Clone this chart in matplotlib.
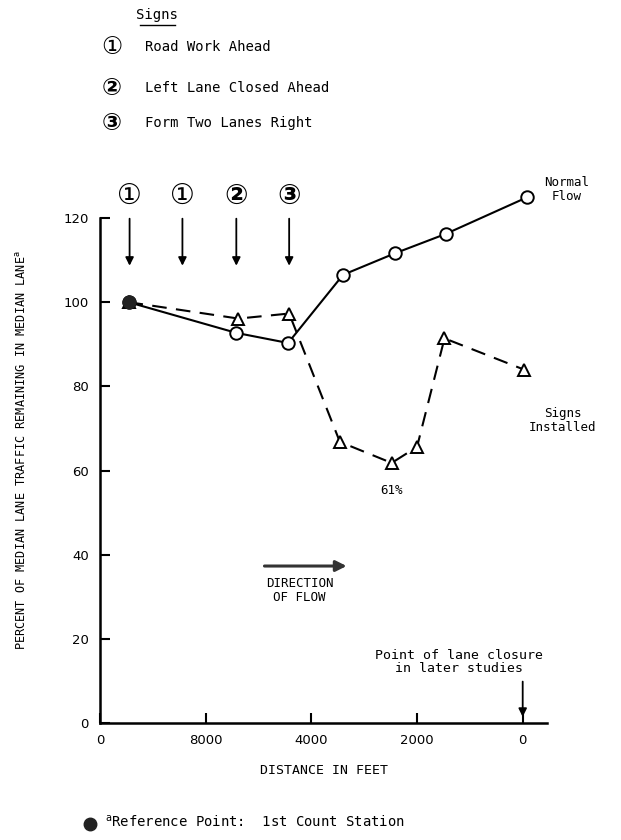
import matplotlib
matplotlib.use("Agg")
import matplotlib.pyplot as plt
from matplotlib.lines import Line2D

# x positions are in tick units (ticks are equally spaced on the original)
tick_pos = [0, 1, 2, 3, 4]
tick_labels = ['0', '8000', '4000', '2000', '0']
y_ticks = [0, 20, 40, 60, 80, 100, 120]

normal_x = [0.27, 1.29, 1.78, 2.30, 2.79, 3.27, 4.04]
normal_y = [100, 92.7, 90.3, 106.5, 111.6, 116.2, 124.9]

signs_x = [0.27, 1.31, 1.79, 2.27, 2.76, 3.00, 3.26, 4.01]
signs_y = [100, 96.1, 97.3, 66.8, 61.8, 65.6, 91.4, 84.0]

sign_pos = [0.28, 0.78, 1.29, 1.79]
sign_marks = ['\u2460', '\u2460', '\u2461', '\u2462']
sign_names = ['Road Work Ahead', 'Left Lane Closed Ahead', 'Form Two Lanes Right']

MONO = ['DejaVu Sans Mono', 'Noto Sans CJK JP']
CIRC = ['DejaVu Sans', 'Noto Sans CJK JP']

W, H = 621, 840
fig = plt.figure(figsize=(W / 100, H / 100), dpi=100)
ax = fig.add_axes([100 / W, 1 - 723 / H, 447 / W, 505 / H])


def px(x, y):
    return x / W, 1 - y / H


ax.plot(signs_x, signs_y, color='black', lw=1.5, ls=(0, (7, 4.5)),
        marker='^', ms=9, mfc='white', mec='black', mew=1.4, clip_on=False, zorder=3)
ax.plot(normal_x, normal_y, color='black', lw=1.5,
        marker='o', ms=9, mfc='white', mec='black', mew=1.4, clip_on=False, zorder=4)
ax.plot(normal_x[0], normal_y[0], marker='o', ms=9, color='#222222', zorder=5, clip_on=False)

ax.set_xlim(0, 4.23)
ax.set_ylim(0, 120)
ax.set_xticks(tick_pos)
ax.set_xticklabels(tick_labels)
ax.set_yticks(y_ticks)
ax.tick_params(direction='in', length=7, width=1.5, labelsize=9.5, pad=8)
for s in ['top', 'right']:
    ax.spines[s].set_visible(False)
for s in ['left', 'bottom']:
    ax.spines[s].set_linewidth(1.8)
ax.set_xlabel('DISTANCE IN FEET', family=MONO, fontsize=9.5, labelpad=12)

# sign arrows above the plot
for xp, mk in zip(sign_pos, sign_marks):
    ax.annotate('', xy=(xp, 108), xytext=(xp, 120.5),
                arrowprops=dict(arrowstyle='-|>', color='black', lw=1.3,
                                mutation_scale=12), annotation_clip=False)
    ax.text(xp, 125.3, mk, family=CIRC, fontsize=20, ha='center', va='center',
            fontweight='bold' if mk != '\u2460' else 'normal')

ax.text(4.42, 126.8, 'Normal\nFlow', family=MONO, fontsize=9, ha='center', va='center',
        linespacing=1.1)
ax.text(4.38, 72.0, 'Signs\nInstalled', family=MONO, fontsize=9, ha='center', va='center',
        linespacing=1.1)
ax.text(2.76, 55.3, '61%', family=MONO, fontsize=9, ha='center', va='center')

ax.annotate('', xy=(2.36, 37.3), xytext=(1.53, 37.3),
            arrowprops=dict(arrowstyle='-|>', color='#333333', lw=2.2, mutation_scale=16))
ax.text(1.89, 31.4, 'DIRECTION\nOF FLOW', family=MONO, fontsize=9, ha='center', va='center',
        linespacing=1.1)

ax.text(3.40, 14.5, 'Point of lane closure\nin later studies', family=MONO, fontsize=9.5,
        ha='center', va='center', linespacing=1.05)
ax.annotate('', xy=(4, 0.8), xytext=(4, 10.5),
            arrowprops=dict(arrowstyle='-|>', color='black', lw=1.3, mutation_scale=12),
            annotation_clip=False)

fig.text(*px(22, 450), 'PERCENT OF MEDIAN LANE TRAFFIC REMAINING IN MEDIAN LANE$^{\\mathrm{a}}$',
         family=MONO, fontsize=8.6, rotation=90, ha='center', va='center')

# top legend of signs
fig.text(*px(157, 15), 'Signs', family=MONO, fontsize=10, ha='center', va='center')
fig.add_artist(Line2D([140 / W, 175 / W], [1 - 25 / H, 1 - 25 / H], color='black', lw=1))
for i, (name, yy) in enumerate(zip(sign_names, [47, 88, 123])):
    fig.text(*px(112, yy), sign_marks[i + 1] if i else sign_marks[0], family=CIRC,
             fontsize=17, ha='center', va='center', fontweight='bold' if i else 'normal')
    fig.text(*px(145, yy), name, family=MONO, fontsize=10, ha='left', va='center')

# footnote
fig.add_artist(Line2D([90 / W], [1 - 824 / H], marker='o', ms=9, color='#222222'))
fig.text(*px(105, 822), '$^{\\mathrm{a}}$Reference Point:  1st Count Station',
         family=MONO, fontsize=10, ha='left', va='center')

fig.savefig('out.png', dpi=100)
